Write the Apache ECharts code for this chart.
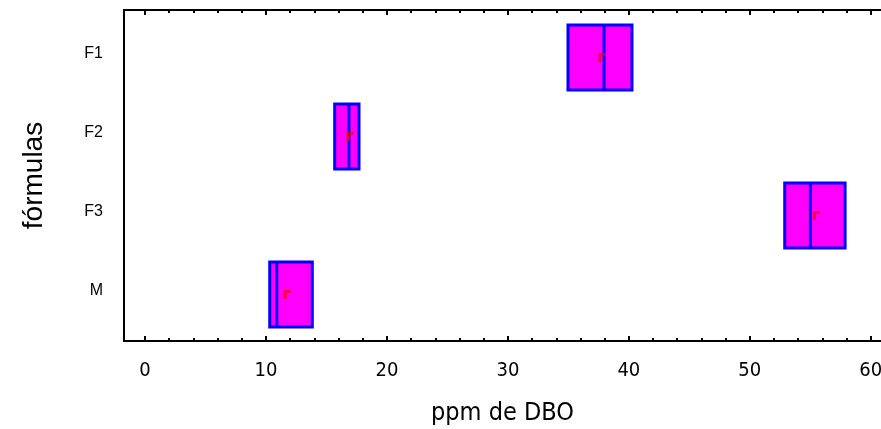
<!DOCTYPE html>
<html>
<head>
<meta charset="utf-8">
<script src="https://cdn.jsdelivr.net/npm/echarts@6/dist/echarts.min.js"></script>
<style>html,body{margin:0;padding:0;background:#fff}#c{width:881px;height:429px}</style>
</head>
<body>
<div id="c"></div>
<script>
const categories = ['F1', 'F2', 'F3', 'M'];
const q1Values = [34.97, 15.68, 52.89, 10.31];
const medianValues = [37.95, 16.86, 55.01, 10.89];
const q3Values = [40.26, 17.69, 57.88, 13.83];
const minValues = [34.97, 15.68, 52.89, 10.31];
const maxValues = [40.26, 17.69, 57.88, 13.83];
const meanValues = [37.78, 16.95, 55.5, 11.74];
const majorTicks = [0, 10, 20, 30, 40, 50, 60];
const minorTicks = [0, 2, 4, 6, 8, 10, 12, 14, 16, 18, 20, 22, 24, 26, 28, 30, 32, 34, 36, 38, 40, 42, 44, 46, 48, 50, 52, 54, 56, 58, 60];

const X_MIN = -1.74, X_MAX = 60.85;
const narrow = '"DejaVu Sans Condensed", "Liberation Sans Narrow", "Liberation Sans", Arial, sans-serif';
const sans = '"Liberation Sans", Arial, sans-serif';

const boxData = categories.map((c, i) => [minValues[i], q1Values[i], medianValues[i], q3Values[i], maxValues[i]]);
const meanData = categories.map((c, i) => [meanValues[i], c]);

function frameAxis(pos, values, len, labels) {
  return {
    type: 'value', gridIndex: 0, position: pos, min: X_MIN, max: X_MAX,
    axisLine: {show: true, onZero: false, lineStyle: {color: '#000', width: 2}},
    axisTick: {show: true, inside: true, length: len, customValues: values, lineStyle: {color: '#000', width: 2}},
    axisLabel: labels ? {show: true, customValues: majorTicks, margin: 20, fontFamily: narrow, fontSize: 20, color: '#000'} : {show: false},
    splitLine: {show: false}
  };
}

const xAxes = [
  Object.assign(frameAxis('bottom', majorTicks, 5, true), {
    name: 'ppm de DBO', nameLocation: 'middle', nameGap: 60,
    nameTextStyle: {fontFamily: narrow, fontSize: 25, color: '#000'}
  }),
  frameAxis('bottom', minorTicks, 3, false),
  frameAxis('top', majorTicks, 5, false),
  frameAxis('top', minorTicks, 3, false),
  {type: 'value', gridIndex: 1, min: X_MIN, max: X_MAX, show: false},
  {type: 'value', gridIndex: 2, min: X_MIN, max: X_MAX, show: false}
];

const chart = echarts.init(document.getElementById('c'));
chart.setOption({
  animation: false,
  backgroundColor: '#fff',
  grid: [
    {left: 124, right: 0, top: 10, bottom: 88, outerBoundsMode: 'none', containLabel: false},
    {left: 124, right: 0, top: 18, bottom: 95, outerBoundsMode: 'none', containLabel: false},
    {left: 124, right: 0, top: 14, bottom: 99, outerBoundsMode: 'none', containLabel: false}
  ],
  xAxis: xAxes,
  yAxis: [
    {
      type: 'value', gridIndex: 0, min: 0, max: 1,
      axisLine: {show: true, onZero: false, lineStyle: {color: '#000', width: 2}},
      axisTick: {show: false}, axisLabel: {show: false}, splitLine: {show: false},
      name: 'fórmulas', nameLocation: 'middle', nameRotate: 90, nameGap: 76,
      nameTextStyle: {fontFamily: sans, fontSize: 28, color: '#000'}
    },
    {
      type: 'category', gridIndex: 1, data: categories, inverse: true,
      axisLine: {show: false}, axisTick: {show: false}, splitLine: {show: false},
      axisLabel: {show: false}
    },
    {
      type: 'category', gridIndex: 2, data: categories, inverse: true,
      axisLine: {show: false}, axisTick: {show: false}, splitLine: {show: false},
      axisLabel: {margin: 21, fontFamily: sans, fontSize: 16, color: '#000'}
    }
  ],
  series: [
    {
      type: 'boxplot', xAxisIndex: 4, yAxisIndex: 1,
      data: boxData, boxWidth: [65, 65],
      itemStyle: {color: '#ff00ff', borderColor: '#0000ff', borderWidth: 3},
      emphasis: {disabled: true}
    },
    {
      type: 'scatter', xAxisIndex: 4, yAxisIndex: 1, z: 5,
      data: meanData,
      symbol: 'path://M0,0 H6 V2.5 H2.5 V8 H0 Z', symbolSize: [7, 9],
      itemStyle: {color: '#ff0000'}
    }
  ]
});
</script>
</body>
</html>
